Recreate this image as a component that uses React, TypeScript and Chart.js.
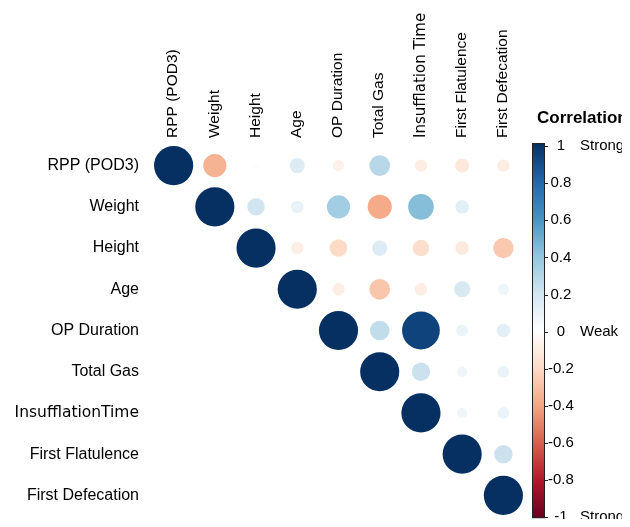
import React, { useEffect, useRef } from 'react';
import { Chart, registerables } from 'chart.js';

Chart.register(...registerables);

// Variable names (rows use the label as printed on the left, columns as printed on top)
const rowLabels = ['RPP (POD3)', 'Weight', 'Height', 'Age', 'OP Duration', 'Total Gas', 'InsufflationTime', 'First Flatulence', 'First Defecation'];
const columnLabels = ['RPP (POD3)', 'Weight', 'Height', 'Age', 'OP Duration', 'Total Gas', 'Insufflation Time', 'First Flatulence', 'First Defecation'];

// Upper-triangle correlations, each row starts at its diagonal cell
const rppRow = [1, -0.35, 0.02, 0.15, -0.08, 0.28, -0.1, -0.13, -0.1];
const weightRow = [1, 0.2, 0.1, 0.35, -0.38, 0.43, 0.12, 0.01];
const heightRow = [1, -0.1, -0.2, 0.15, -0.18, -0.12, -0.27];
const ageRow = [1, -0.1, -0.28, -0.1, 0.17, 0.08];
const opDurationRow = [1, 0.25, 0.93, 0.09, 0.12];
const totalGasRow = [1, 0.22, 0.07, 0.09];
const insufflationRow = [1, 0.07, 0.09];
const flatulenceRow = [1, 0.22];
const defecationRow = [1];

const correlationRows = [rppRow, weightRow, heightRow, ageRow, opDurationRow, totalGasRow, insufflationRow, flatulenceRow, defecationRow];

// Colorbar
const colorbarTicks = [1, 0.8, 0.6, 0.4, 0.2, 0, -0.2, -0.4, -0.6, -0.8, -1];
const strengthTicks = [1, 0, -1];
const strengthLabels = ['Strong', 'Weak', 'Strong'];
const colorbarTitle = 'Correlation';

// RdBu colormap stops from -1 to 1
const rdbuStops = ['#67001f', '#b2182b', '#d6604d', '#f4a582', '#fddbc7', '#ffffff', '#d1e5f0', '#92c5de', '#4393c3', '#2166ac', '#053061'];

function hexToRgb(h: string) {
  const n = parseInt(h.slice(1), 16);
  return [(n >> 16) & 255, (n >> 8) & 255, n & 255];
}

function colorFor(v: number) {
  const t = (Math.max(-1, Math.min(1, v)) + 1) / 2 * (rdbuStops.length - 1);
  const i = Math.min(Math.floor(t), rdbuStops.length - 2);
  const f = t - i;
  const a = hexToRgb(rdbuStops[i]);
  const b = hexToRgb(rdbuStops[i + 1]);
  const c = a.map((x, k) => Math.round(x + (b[k] - x) * f));
  return `rgb(${c[0]},${c[1]},${c[2]})`;
}

const colorbarPlugin = {
  id: 'colorbar',
  afterDraw(chart: any) {
    const s = chart.scales.cb;
    if (!s) return;
    const ctx = chart.ctx;
    const x0 = s.left + 8;
    const w = 13;
    const top = s.getPixelForValue(1) - 3;
    const bottom = s.getPixelForValue(-1) + 1;
    const g = ctx.createLinearGradient(0, bottom, 0, top);
    rdbuStops.forEach((c, i) => g.addColorStop(i / (rdbuStops.length - 1), c));
    ctx.save();
    ctx.fillStyle = g;
    ctx.fillRect(x0, top, w, bottom - top);
    ctx.strokeStyle = '#222';
    ctx.lineWidth = 1;
    ctx.strokeRect(x0 + 0.5, top + 0.5, w - 1, bottom - top - 1);
    colorbarTicks.forEach((v) => {
      const y = Math.round(s.getPixelForValue(v)) + 0.5;
      ctx.beginPath();
      ctx.moveTo(x0 + w - 1, y);
      ctx.lineTo(x0 + w + 3, y);
      ctx.stroke();
    });
    ctx.fillStyle = '#000';
    ctx.font = 'bold 17px "Liberation Sans", Arial, sans-serif';
    ctx.textAlign = 'left';
    ctx.textBaseline = 'middle';
    ctx.fillText(colorbarTitle, x0 + 5, 118);
    ctx.restore();
  },
};

export default function App() {
  const ref = useRef<HTMLCanvasElement>(null);

  useEffect(() => {
    if (!ref.current) return;
    const points: any[] = [];
    correlationRows.forEach((row, i) => {
      row.forEach((v, k) => {
        points.push({ x: i + k, y: i, v });
      });
    });

    const labelFont = (special: boolean, size: number) =>
      special
        ? { family: '"DejaVu Sans", sans-serif', size: size - 0.5 }
        : { family: '"Liberation Sans", Arial, sans-serif', size };

    const radiusFor = (ctx: any) => {
      const xs = ctx.chart.scales.x;
      const cell = Math.abs(xs.getPixelForValue(1) - xs.getPixelForValue(0));
      const v = ctx.raw ? ctx.raw.v : 0;
      return cell * 0.475 * Math.sqrt(Math.abs(v));
    };

    const fixVertical = (width: number) => (s: any) => {
      s.width = width;
      s.paddingTop = 0;
      s.paddingBottom = 0;
    };

    const chart = new Chart(ref.current, {
      type: 'scatter',
      data: {
        datasets: [
          {
            data: points,
            pointRadius: radiusFor,
            pointHoverRadius: radiusFor,
            backgroundColor: (ctx: any) => colorFor(ctx.raw ? ctx.raw.v : 0),
            borderWidth: 0,
            pointBorderWidth: 0,
            clip: false as any,
          } as any,
        ],
      },
      options: {
        responsive: false,
        animation: false,
        events: [],
        layout: { padding: { top: 0, left: 0, right: 0, bottom: 11 } },
        plugins: { legend: { display: false }, tooltip: { enabled: false } },
        scales: {
          x: {
            type: 'linear',
            position: 'top',
            min: -0.5,
            max: 8.5,
            grid: { display: false, drawTicks: false },
            border: { display: false },
            afterBuildTicks: (s: any) => {
              s.ticks = columnLabels.map((_, i) => ({ value: i }));
            },
            afterFit: (s: any) => {
              s.height = 145;
              s.paddingLeft = 0;
              s.paddingRight = 0;
            },
            ticks: {
              autoSkip: false,
              minRotation: 90,
              maxRotation: 90,
              padding: 7,
              labelOffset: 18,
              color: '#000',
              font: (ctx: any) => labelFont(ctx.index === 6, 15.5),
              callback: (v: any) => columnLabels[Math.round(v)],
            },
          },
          y: {
            type: 'linear',
            position: 'left',
            min: -0.5,
            max: 8.5,
            reverse: true,
            grid: { display: false, drawTicks: false },
            border: { display: false },
            afterBuildTicks: (s: any) => {
              s.ticks = rowLabels.map((_, i) => ({ value: i }));
            },
            afterFit: fixVertical(153),
            ticks: {
              autoSkip: false,
              padding: 14,
              color: '#000',
              font: (ctx: any) => labelFont(ctx.index === 6, 16),
              callback: (v: any) => rowLabels[Math.round(v)],
            },
          },
          cb: {
            type: 'linear',
            axis: 'y',
            position: 'right',
            weight: 1,
            min: -0.994,
            max: 1.006,
            grid: { display: false, drawTicks: false },
            border: { display: false },
            afterBuildTicks: (s: any) => {
              s.ticks = colorbarTicks.map((v) => ({ value: v }));
            },
            afterFit: fixVertical(51),
            ticks: {
              autoSkip: false,
              padding: 24,
              crossAlign: 'center',
              color: '#000',
              font: { family: '"Liberation Sans", Arial, sans-serif', size: 15 },
              callback: (v: any) => String(v),
            },
          },
          cbw: {
            type: 'linear',
            axis: 'y',
            position: 'right',
            weight: 2,
            min: -0.994,
            max: 1.006,
            grid: { display: false, drawTicks: false },
            border: { display: false },
            afterBuildTicks: (s: any) => {
              s.ticks = strengthTicks.map((v) => ({ value: v }));
            },
            afterFit: fixVertical(75),
            ticks: {
              autoSkip: false,
              padding: 5,
              color: '#000',
              font: { family: '"Liberation Sans", Arial, sans-serif', size: 15 },
              callback: (v: any) => strengthLabels[strengthTicks.indexOf(v)],
            },
          },
        } as any,
      },
      plugins: [colorbarPlugin],
    } as any);
    return () => chart.destroy();
  }, []);

  return (
    <div style={{ margin: -8, width: 630, height: 527, overflow: 'hidden', position: 'relative', background: '#fff' }}>
      <canvas ref={ref} width={650} height={527} style={{ display: 'block' }} />
    </div>
  );
}
